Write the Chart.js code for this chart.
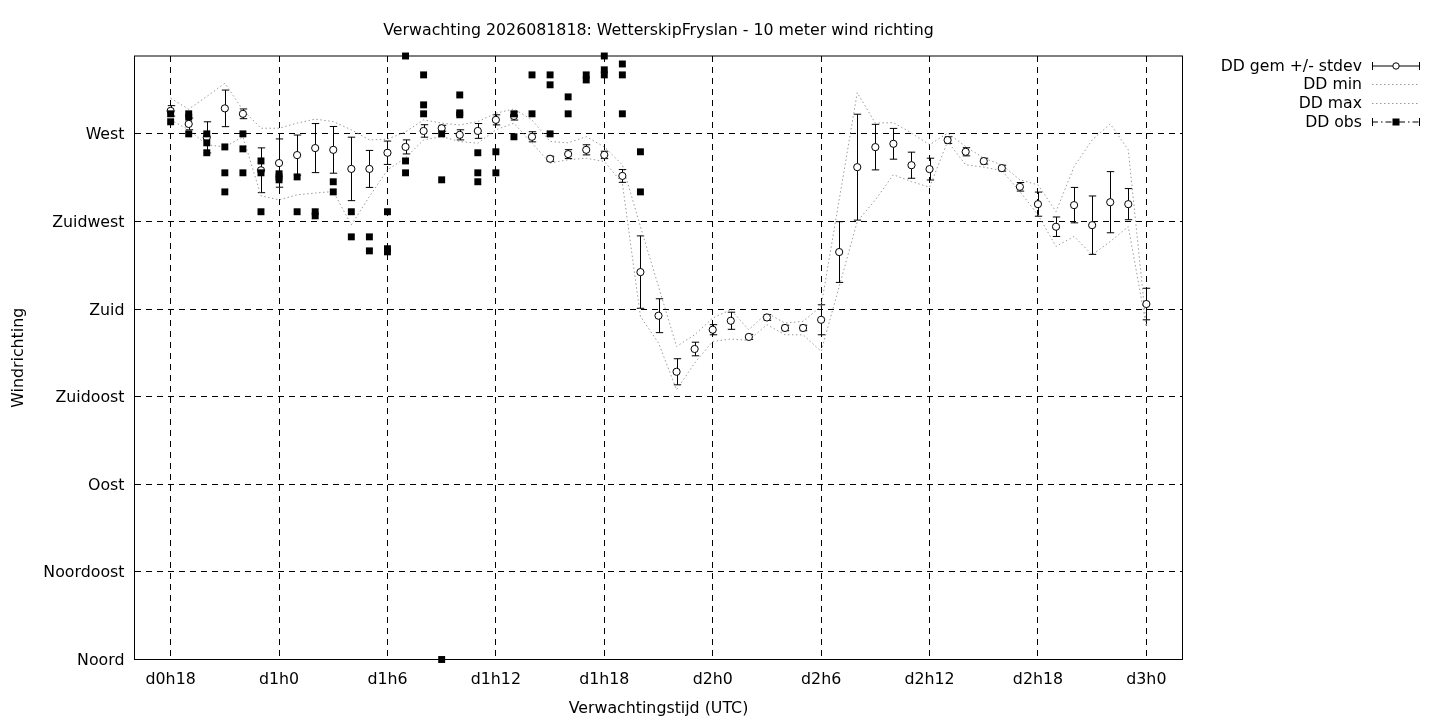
<!DOCTYPE html>
<html><head><meta charset="utf-8">
<script src="https://cdn.jsdelivr.net/npm/chart.js@4.4.1/dist/chart.umd.min.js"></script>
<style>
html,body{margin:0;padding:0;background:#fff;}
#wrap{position:relative;width:1440px;height:720px;overflow:hidden;}
canvas{display:block;}
.lg{position:absolute;left:1000px;width:362px;text-align:right;font-family:'DejaVu Sans',sans-serif;font-size:15.7px;line-height:18px;height:18px;color:#000;white-space:nowrap;}
.sym{position:absolute;left:1371px;width:52px;height:18px;}
</style>
</head><body>
<div id="wrap">
<canvas id="c" width="1440" height="720"></canvas>
<div class="lg" style="top:56.7px">DD gem +/- stdev</div>
<svg class="sym" style="top:56.7px" viewBox="0 0 52 18"><line x1="1" y1="9" x2="49" y2="9" stroke="#000" stroke-width="1"/><line x1="1.5" y1="5" x2="1.5" y2="13" stroke="#000"/><line x1="48.5" y1="5" x2="48.5" y2="13" stroke="#000"/><circle cx="25" cy="9" r="3.2" fill="#fff" stroke="#000"/></svg>
<div class="lg" style="top:75.3px">DD min</div>
<svg class="sym" style="top:75.3px" viewBox="0 0 52 18"><line x1="1" y1="9.5" x2="49" y2="9.5" stroke="#9a9a9a" stroke-width="1" stroke-dasharray="1.5 2.5"/></svg>
<div class="lg" style="top:93.7px">DD max</div>
<svg class="sym" style="top:93.7px" viewBox="0 0 52 18"><line x1="1" y1="9.5" x2="49" y2="9.5" stroke="#9a9a9a" stroke-width="1" stroke-dasharray="1.5 2.5"/></svg>
<div class="lg" style="top:112.7px">DD obs</div>
<svg class="sym" style="top:112.7px" viewBox="0 0 52 18"><line x1="1" y1="9" x2="49" y2="9" stroke="#000" stroke-width="1" stroke-dasharray="6 3 1.5 3"/><line x1="1.5" y1="5" x2="1.5" y2="13" stroke="#000"/><line x1="48.5" y1="5" x2="48.5" y2="13" stroke="#000"/><rect x="21.5" y="5.5" width="7" height="7" fill="#000"/></svg>
</div>
<script>
// ---- data ----
const hours = [18,19,20,21,22,23,24,25,26,27,28,29,30,31,32,33,34,35,36,37,38,39,40,41,42,43,44,45,46,47,48,49,50,51,52,53,54,55,56,57,58,59,60,61,62,63,64,65,66,67,68,69,70,71,72];
const meanDeg = [281.8,275.1,268.2,283.1,280.3,251.3,255.0,259.1,262.7,261.8,252.0,252.0,260.3,263.3,271.5,272.9,269.5,271.5,277.2,279.2,268.5,257.2,259.6,261.8,259.2,248.4,199.0,176.6,147.8,159.5,169.4,174.0,165.7,175.7,170.3,170.3,174.5,209.3,252.9,263.2,264.9,253.9,251.9,266.8,260.8,256.0,252.4,242.8,233.9,222.3,233.4,223.1,234.9,233.9,182.6];
const sdDeg = [2.7,3.0,8.0,9.4,2.5,11.5,12.4,10.3,12.6,12.0,16.3,9.5,6.0,3.6,3.2,1.5,2.6,3.8,2.6,2.1,2.6,1.3,2.3,2.6,1.9,3.3,18.6,8.7,6.7,3.5,2.6,4.4,1.3,1.5,1.4,1.4,7.7,15.6,27.2,11.7,7.9,6.7,5.6,1.7,2.1,1.5,1.5,2.2,6.2,5.0,9.1,15.0,15.7,8.0,8.1];
const minDeg = [277.2,272.1,264.4,263.3,268.5,238.2,236.1,238.7,239.6,240.4,223.3,237.8,251.5,257.7,266.9,268.6,266.1,265.2,272.1,275.5,265.2,255.0,256.7,257.5,255.8,244.7,176.2,162.6,138.6,152.3,163.4,164.6,163.9,172.0,166.8,166.8,158.3,191.6,225.0,236.1,249.0,245.5,242.6,266.1,254.1,252.9,251.2,240.4,228.4,212.2,217.3,207.9,214.7,222.4,171.1];
const maxDeg = [288.3,282.7,289.2,296.0,282.3,272.9,272.9,275.5,277.6,276.3,272.1,266.9,267.3,271.0,277.2,275.5,274.6,276.3,280.6,282.8,277.2,266.1,265.4,268.6,263.3,254.1,222.4,191.6,160.8,166.8,175.4,179.7,169.4,178.0,172.8,173.7,181.4,236.1,291.2,275.5,275.8,270.4,264.4,270.4,263.5,257.5,254.1,246.4,243.8,230.1,253.2,266.9,275.1,261.8,171.1];
const obsHour = [18,18, 19,19,19, 20,20,20, 21,21,21, 22,22,22, 23,23,23, 24,24,24, 25,25, 26,26, 27,27, 28,28, 29,29, 30,30,30, 31,31,31, 32,32,32, 33,33,33, 34,34,34, 35,35,35, 36,36, 37,37, 38,38, 39,39,39, 40,40, 41,41, 42,42,42, 43,43,43, 44,44];
const obsDeg = [280.3,276.2, 280.3,278.6,270.0, 270.0,265.4,260.3, 263.3,250.0,240.2, 270.0,262.3,250.0, 256.1,250.0,230.0, 249.5,247.9,246.4, 247.9,230.0, 230.0,227.9, 245.4,240.2, 230.0,217.1, 217.1,209.9, 230.0,211.0,209.4, 310.0,256.1,250.0, 300.3,284.9,280.3, 270.0,246.4,0, 290.0,280.8,279.8, 260.3,250.0,245.4, 260.8,250.0, 280.3,268.5, 300.3,280.3, 300.3,295.2,270.0, 289.0,280.3, 300.3,297.7, 310.0,302.9,300.3, 305.9,300.3,280.3, 260.8,240.2];
const xTickHours = [18,24,30,36,42,48,54,60,66,72];
const xTickLabels = ['d0h18','d1h0','d1h6','d1h12','d1h18','d2h0','d2h6','d2h12','d2h18','d3h0'];
const yTickDeg = [0,45,90,135,180,225,270];
const yTickLabels = ['Noord','Noordoost','Oost','Zuidoost','Zuid','Zuidwest','West'];
const titleText = 'Verwachting 2026081818: WetterskipFryslan - 10 meter wind richting';

const FONT = {family:"'DejaVu Sans', sans-serif", size:15.8, lineHeight:1.2};

const framePlugin = {
  id:'frame',
  beforeDatasetsDraw(chart){
    const {ctx, chartArea:a} = chart;
    ctx.save();
    ctx.strokeStyle = '#000'; ctx.lineWidth = 1; ctx.setLineDash([]);
    ctx.strokeRect(a.left, a.top, a.right - a.left, a.bottom - a.top);
    // error bars for mean +/- stdev
    const xs = chart.scales.x, ys = chart.scales.y;
    ctx.beginPath();
    hours.forEach((h,i)=>{
      const px = Math.round(xs.getPixelForValue(h)) + 0.5;
      const yHi = ys.getPixelForValue(meanDeg[i] + sdDeg[i]);
      const yLo = ys.getPixelForValue(meanDeg[i] - sdDeg[i]);
      ctx.moveTo(px, yHi); ctx.lineTo(px, yLo);
      ctx.moveTo(px - 3.7, yHi); ctx.lineTo(px + 3.7, yHi);
      ctx.moveTo(px - 3.7, yLo); ctx.lineTo(px + 3.7, yLo);
    });
    ctx.stroke();
    ctx.restore();
  }
};

new Chart(document.getElementById('c'), {
  type:'scatter',
  data:{
    datasets:[
      {label:'DD obs', data: obsHour.map((h,i)=>({x:h, y:obsDeg[i]})), pointStyle:'rect', pointRadius:4.9, backgroundColor:'#000', borderColor:'#000', borderWidth:0, clip:false},
      {label:'DD gem +/- stdev', data: hours.map((h,i)=>({x:h, y:meanDeg[i]})), pointStyle:'circle', pointRadius:3.6, backgroundColor:'#fff', borderColor:'#000', borderWidth:1, clip:false},
      {label:'DD min', data: hours.map((h,i)=>({x:h, y:minDeg[i]})), showLine:true, pointRadius:0, borderColor:'#9a9a9a', borderWidth:1, borderDash:[1.5,2.5], fill:false},
      {label:'DD max', data: hours.map((h,i)=>({x:h, y:maxDeg[i]})), showLine:true, pointRadius:0, borderColor:'#9a9a9a', borderWidth:1, borderDash:[1.5,2.5], fill:false}
    ]
  },
  options:{
    responsive:false, animation:false, devicePixelRatio:1,
    layout:{padding:{left:0, right:257.5, top:0, bottom:0}},
    plugins:{
      legend:{display:false}, tooltip:{enabled:false},
      title:{display:true, text:titleText, fullSize:false, color:'#000', font:{...FONT, weight:'normal'}, padding:{top:21.5, bottom:15.54}}
    },
    scales:{
      x:{type:'linear', min:16, max:74,
        afterBuildTicks(s){ s.ticks = xTickHours.map(v=>({value:v})); },
        afterFit(s){ s.height = 60.5; },
        ticks:{color:'#000', font:FONT, padding:11, maxRotation:0, autoSkip:false, callback:(v)=>{const k = xTickHours.indexOf(v); return k>=0 ? xTickLabels[k] : '';}},
        grid:{color:'#000', lineWidth:1, drawTicks:false},
        border:{display:false, dash:[6,5]},
        title:{display:true, text:'Verwachtingstijd (UTC)', color:'#000', font:FONT, padding:{top:0, bottom:1.5}}
      },
      y:{type:'linear', min:0, max:310,
        afterBuildTicks(s){ s.ticks = yTickDeg.map(v=>({value:v})); },
        afterFit(s){ s.width = 134.5; },
        ticks:{color:'#000', font:FONT, padding:10, labelOffset:1.5, autoSkip:false, callback:(v)=>{const k = yTickDeg.indexOf(v); return k>=0 ? yTickLabels[k] : '';}},
        grid:{color:'#000', lineWidth:1, drawTicks:false},
        border:{display:false, dash:[6,5]},
        title:{display:true, text:'Windrichting', color:'#000', font:FONT, padding:{top:9.5, bottom:0}}
      }
    }
  },
  plugins:[framePlugin]
});
</script>
</body></html>
